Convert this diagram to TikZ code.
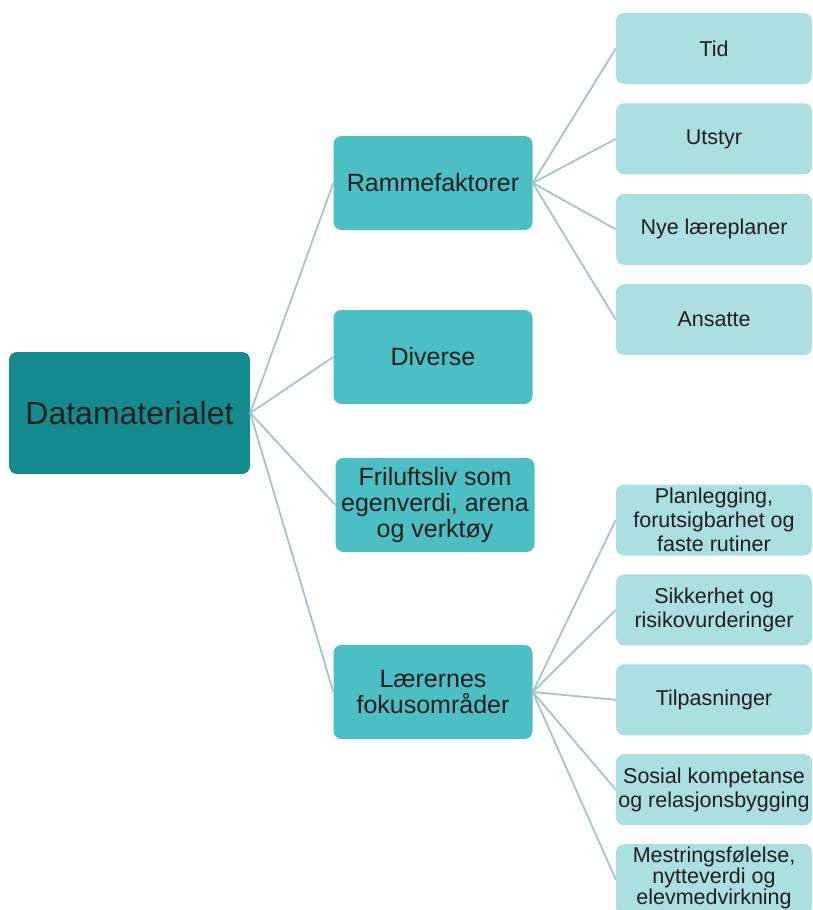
\documentclass[tikz,border=0pt]{standalone}
\usepackage{fontspec}
\setmainfont{Liberation Sans}
\usetikzlibrary{positioning}

\definecolor{rootteal}{RGB}{19,139,143}
\definecolor{midteal}{RGB}{76,191,197}
\definecolor{leafteal}{RGB}{171,223,226}
\definecolor{linkgray}{RGB}{165,198,200}

\begin{document}
\begin{tikzpicture}
    [x=1pt, y=-1pt,
     every node/.style={align=center, rounded corners=8pt, inner sep=2pt, text=black!88},
     root/.style={fill=rootteal, minimum width=241pt, minimum height=122pt,
                  font=\fontsize{32}{36}\selectfont},
     mid/.style={fill=midteal, minimum width=199pt, minimum height=94pt,
                 font=\fontsize{25}{26}\selectfont},
     leaf/.style={fill=leafteal, minimum width=196pt, minimum height=71pt, inner sep=0pt,
                  font=\fontsize{21.5}{24}\selectfont},
     link/.style={draw=linkgray, line width=1.8pt},
    ]
    \useasboundingbox (0,0) rectangle (813,910);

    \node (data) [root] at (129.5,413) {Datamaterialet};

    \node (ramme) [mid] at (433,183) {Rammefaktorer};
    \node (diverse) [mid] at (433,357) {Diverse};
    \node (friluft) [mid] at (435,505) {Friluftsliv som\\egenverdi, arena\\og verktøy};
    \node (laerer) [mid] at (433,692) {Lærernes\\fokusområder};

    \node (tid) [leaf] at (714,48.5) {Tid};
    \node (utstyr) [leaf, below=19pt of tid] {Utstyr};
    \node (laereplan) [leaf, below=19pt of utstyr] {Nye læreplaner};
    \node (ansatte) [leaf, below=19pt of laereplan] {Ansatte};

    \node (plan) [leaf] at (714,520) {Planlegging,\\forutsigbarhet og\\faste rutiner};
    \node (sikker) [leaf, below=18.5pt of plan] {Sikkerhet og\\risikovurderinger};
    \node (tilpas) [leaf, below=18.5pt of sikker] {Tilpasninger};
    \node (sosial) [leaf, below=18.5pt of tilpas] {Sosial kompetanse\\og relasjonsbygging};
    \node (mestring) [leaf, below=18.5pt of sosial, font=\fontsize{21.5}{21}\selectfont]
        {Mestringsfølelse,\\nytteverdi og\\elevmedvirkning\vspace{3pt}};

    \draw [link] (data.east) -- (ramme.west);
    \draw [link] (data.east) -- (diverse.west);
    \draw [link] (data.east) -- (friluft.west);
    \draw [link] (data.east) -- (laerer.west);

    \draw [link] (ramme.east) -- (tid.west);
    \draw [link] (ramme.east) -- (utstyr.west);
    \draw [link] (ramme.east) -- (laereplan.west);
    \draw [link] (ramme.east) -- (ansatte.west);

    \draw [link] (laerer.east) -- (plan.west);
    \draw [link] (laerer.east) -- (sikker.west);
    \draw [link] (laerer.east) -- (tilpas.west);
    \draw [link] (laerer.east) -- (sosial.west);
    \draw [link] (laerer.east) -- (mestring.west);

\end{tikzpicture}
\end{document}
